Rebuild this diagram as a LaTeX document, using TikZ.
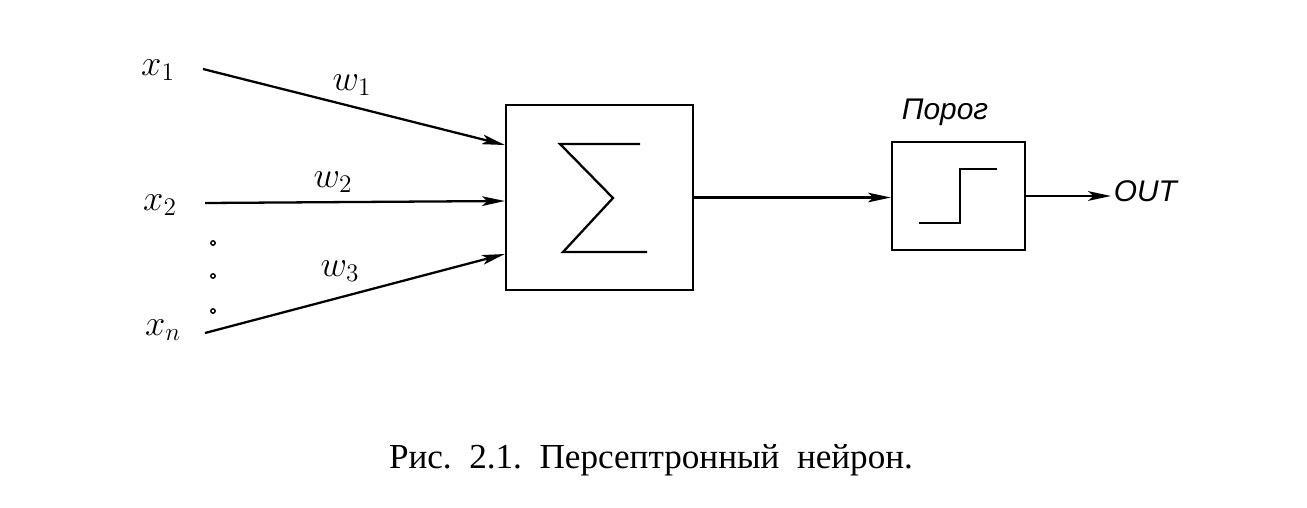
\documentclass[tikz,border=0pt]{standalone}
\usepackage{fontspec}
\setmainfont{Liberation Serif}
\newfontfamily\labelfont{Liberation Sans}
\usetikzlibrary{arrows.meta}

\begin{document}
\begin{tikzpicture}[x=0.02cm,y=-0.02cm,
    line width=1.3pt,
    arr/.style={-{Stealth[length=13pt,width=5.5pt,inset=3pt]}},
    sumbox/.style={draw,minimum width=3.74cm,minimum height=3.7cm,inner sep=0pt},
    stepbox/.style={draw,minimum width=2.66cm,minimum height=2.16cm,inner sep=0pt},
    inlabel/.style={font=\fontsize{20}{22}\selectfont,inner sep=1pt},
    wlabel/.style={font=\fontsize{20}{22}\selectfont,inner sep=1pt}]
  \useasboundingbox (0,0) rectangle (1307,507);
  % blocks
  \node[sumbox] (sum) at (599.5,197.5) {};
  \node[stepbox] (porog) at (958.5,196) {};
  \draw (640,144) -- (560,144) -- (613,198) -- (563,252) -- (647,252);
  \draw (919,223) -- (960,223) -- (960,169) -- (997,169);
  % inputs
  \draw
    (158,70) node[inlabel] (x1) {$x_1$}
    (160,205) node[inlabel] (x2) {$x_2$}
    (163,330) node[inlabel] (xn) {$x_n$};
  \coordinate (in1) at (203,69);
  \coordinate (in2) at (205,203);
  \coordinate (inn) at (205,333);
  \foreach \y in {243,276,311}
    \draw[line width=0.8pt] (213,\y) circle (2.2);
  \draw
    (352,85) node[wlabel] (w1) {$w_1$}
    (333,182) node[wlabel] (w2) {$w_2$}
    (340,271) node[wlabel] (w3) {$w_3$};
  \begin{scope}[arr]
    \draw (in1) -- ([yshift=1.05cm]sum.west);
    \draw (in2) -- ([yshift=-0.07cm]sum.west);
    \draw (inn) -- ([yshift=-1.13cm]sum.west);
    \draw (sum.east) -- (sum.east -| porog.west);
  \end{scope}
  % output
  \node[font=\labelfont\itshape\fontsize{17}{19}\selectfont] (thr) at (945,112) {Порог};
  \node[anchor=west,inner sep=1pt,font=\labelfont\itshape\fontsize{17}{19}\selectfont] (out) at (1111,191) {OUT};
  \draw[arr] (porog.east) -- (porog.east -| out.west);
  % caption
  \node[font=\fontsize{20}{22}\selectfont] (cap) at (651,460) {Рис.\ \ 2.1.\ \ Персептронный\ \ нейрон.};
\end{tikzpicture}
\end{document}
